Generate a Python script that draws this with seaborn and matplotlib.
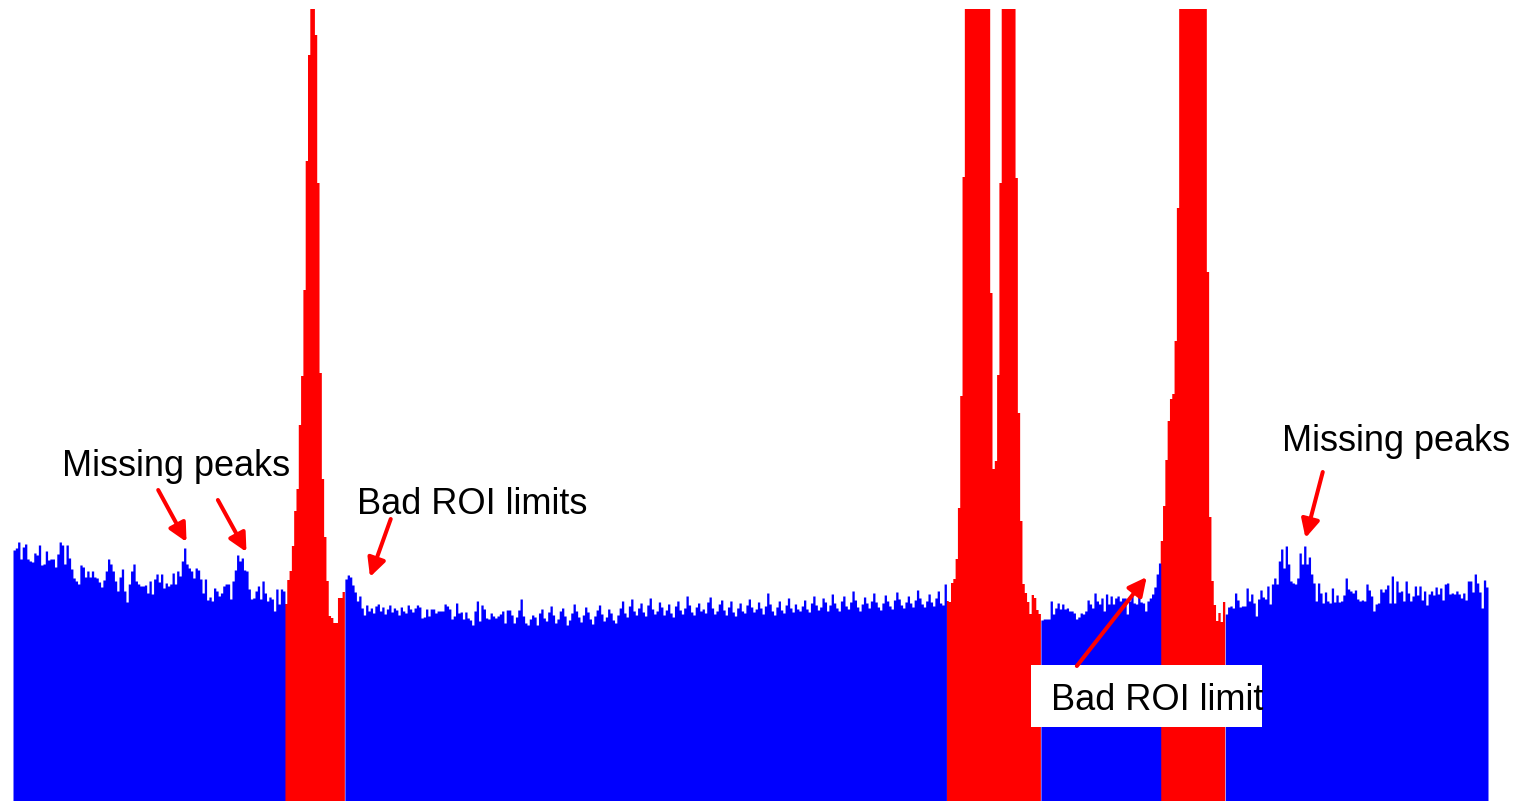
import numpy as np
import pandas as pd
import matplotlib
matplotlib.use("Agg")
import matplotlib.pyplot as plt
from matplotlib.patches import Rectangle
import seaborn as sns

# Spectrum counts per channel, split into background stretches and ROI stretches
bg_left = [
    251, 253, 259, 242, 254, 257, 242, 240, 239, 248,
    246, 256, 236, 237, 250, 241, 242, 242, 234, 247,
    259, 256, 237, 256, 243, 232, 223, 220, 217, 236,
    234, 224, 230, 224, 230, 224, 223, 219, 214, 221,
    230, 242, 237, 230, 220, 210, 224, 232, 210, 199,
    217, 230, 237, 220, 217, 215, 215, 216, 208, 220,
    207, 222, 227, 219, 227, 213, 218, 215, 217, 228,
    217, 230, 225, 240, 253, 237, 233, 230, 223, 233,
    231, 222, 208, 222, 201, 204, 200, 213, 210, 205,
    208, 215, 217, 217, 202, 220, 231, 246, 240, 243,
    231, 230, 212, 202, 203, 210, 215, 202, 220, 208,
    200, 204, 202, 190, 212, 197, 212, 210,
]
roi_1 = [
    197, 221, 230, 255, 290, 312, 376, 425, 511, 640,
    746, 1100, 980, 766, 618, 428, 322, 264, 220, 185,
    183, 178, 178, 203, 203, 209,
]
bg_mid = [
    222, 226, 224, 216, 209, 200, 205,
    193, 186, 196, 190, 193, 188, 195, 197, 190, 194,
    187, 192, 196, 189, 193, 191, 186, 194, 190, 188,
    196, 192, 189,
    193, 196, 194, 183, 184, 192, 185, 192, 192, 188,
    190, 190, 190, 197, 195, 192, 182, 185, 198, 188,
    189, 182, 189, 183, 181, 176, 190, 200, 180, 196,
    192, 183, 182, 188, 185, 183, 185, 187, 190, 178,
    191, 191, 186, 178, 184, 191, 202, 185, 178, 176,
    182, 186,
    184, 176, 188, 192, 183, 180, 189, 195, 186, 178,
    182, 190, 193, 185, 176, 181, 188, 197, 190, 184,
    179, 186, 194, 189, 182, 177, 185, 191, 196, 187,
    180, 184, 192, 188, 181, 178, 186, 193,
    200, 188, 184, 195, 202, 190, 186, 193, 198, 189,
    185, 196, 203, 192, 187, 190, 199, 194, 186, 191,
    197, 188, 184, 195, 200, 191, 187, 193, 205, 196,
    189, 186, 194, 198, 190,
    192, 188, 199, 204, 193, 187, 190, 197, 201, 191,
    186, 194, 200, 189, 185, 193, 198, 190, 188, 196,
    202, 194, 189, 192, 199, 193, 187, 195, 208, 197,
    190, 186, 194, 200, 191, 188, 196, 203, 193, 189,
    197, 192, 190,
    195, 201, 192, 189, 198, 205, 196, 191, 194, 203,
    199, 190, 196, 207, 198, 193, 190, 200, 205, 195,
    192, 199, 210, 201, 194, 190, 197, 204, 198, 193,
    200, 208, 199, 194, 191, 198, 206, 200, 195, 192,
    201, 209, 202, 196, 193, 199, 205, 198, 194, 201,
    211, 203, 197, 194, 200, 207, 199, 195, 203, 210,
    198, 196, 217,
]
roi_2 = [
    200, 199, 218, 222, 242, 293, 405, 624,
    980, 1500, 2300, 3100, 3600, 3800, 3500, 2900, 2100, 1400, 900,
    508, 332, 340, 426, 618,
    1100, 1900, 2600, 2700, 2000, 1200,
    623, 388, 280, 217, 208, 199, 187, 206, 203, 191, 187,
]
bg_gap = [
    181, 182, 182, 182, 200, 187, 193, 198, 192, 197,
    192, 193, 190, 190, 188, 182, 184, 188, 187, 190,
    201, 197, 193, 208, 200, 197, 203, 190, 207, 197,
    205, 197, 203, 205, 200, 203, 203, 187, 200, 205,
    198, 197, 208, 199, 198, 190, 200, 203, 207, 214,
    227, 238,
]
roi_3 = [
    260, 295, 341, 380, 402, 407, 460, 593,
    1000, 1500, 2100, 2700, 3100, 3300, 3200, 2800, 2300, 1700, 1200, 860,
    529, 284, 220, 196, 180, 188, 179, 199,
]
bg_right = [
    187, 194, 195, 193, 208, 201, 194, 195, 195, 213,
    200, 207, 198, 185, 202, 211, 204, 202, 215, 197,
    217, 223, 217, 240, 252, 233, 255, 237, 220, 218,
    217, 223, 248, 237, 255, 237, 244, 227, 218, 200,
    218, 208, 198, 209, 200, 198, 213, 199, 206, 199,
    200, 206, 223, 212, 210, 208, 211, 202, 200, 201,
    200, 217, 211, 205, 190, 197, 198, 212, 209, 212,
    216, 198, 225, 198, 220, 209, 210, 200, 220, 208,
    200, 205, 215, 206, 215, 201, 210, 196, 207, 210,
    206, 214, 207, 213, 201, 217, 218, 207, 208, 207,
    210, 207, 203, 208, 201, 220, 220, 209, 227, 218,
    209, 193, 221, 214,
]

segments = [
    (bg_left, "background"), (roi_1, "roi"), (bg_mid, "background"),
    (roi_2, "roi"), (bg_gap, "background"), (roi_3, "roi"),
    (bg_right, "background"),
]
counts = np.concatenate([np.asarray(v, dtype=float) for v, _ in segments])
region = np.concatenate([[lab] * len(v) for v, lab in segments])
n_ch = len(counts)
df = pd.DataFrame({"channel": np.arange(n_ch) + 0.5, "counts": counts, "region": region})

W, H = 1515, 801
fig = plt.figure(figsize=(W / 100, H / 100), dpi=100)
fig.patch.set_facecolor("white")
ax = fig.add_axes([13 / W, 0, 1475 / W, 792.5 / H])

sns.histplot(
    data=df, x="channel", weights="counts", hue="region",
    binwidth=1, binrange=(0, n_ch), element="step", fill=True, alpha=1,
    linewidth=0, palette={"background": "#0000ff", "roi": "#ff0000"},
    legend=False, ax=ax,
)
ax.set_xlim(0, n_ch)
ax.set_ylim(0, 792.5)
ax.axis("off")

red = "#ff0000"
font = dict(family=["Liberation Sans", "DejaVu Sans"], fontsize=26, color="black")
arrow = dict(arrowstyle="-|>,head_length=0.5,head_width=0.25", color=red,
             lw=2.9, mutation_scale=22, shrinkA=0, shrinkB=0)

# White label box for the lower annotation
ax.add_patch(Rectangle((441.6, 74), 100.3, 62, facecolor="white",
                       edgecolor="none", zorder=5))

ax.text(21.3, 325, "Missing peaks", ha="left", va="baseline", zorder=6, **font)
ax.text(149.2, 287, "Bad ROI limits", ha="left", va="baseline", zorder=6, **font)
ax.text(550.5, 350, "Missing peaks", ha="left", va="baseline", zorder=6,
        clip_on=False, **font)
ax.text(450.3, 91, "Bad ROI limit", ha="left", va="baseline", zorder=6, **font)

arrows = [
    ((63.0, 311), (75.3, 259)),
    ((88.9, 301), (101.3, 249)),
    ((163.9, 282), (154.9, 224)),
    ((461.6, 135), (491.9, 224)),
    ((568.3, 329), (560.8, 263)),
]
for tail, head in arrows:
    ax.annotate("", xy=head, xytext=tail, arrowprops=arrow,
                annotation_clip=False, zorder=7)

fig.savefig("out.png", dpi=100, facecolor="white")
